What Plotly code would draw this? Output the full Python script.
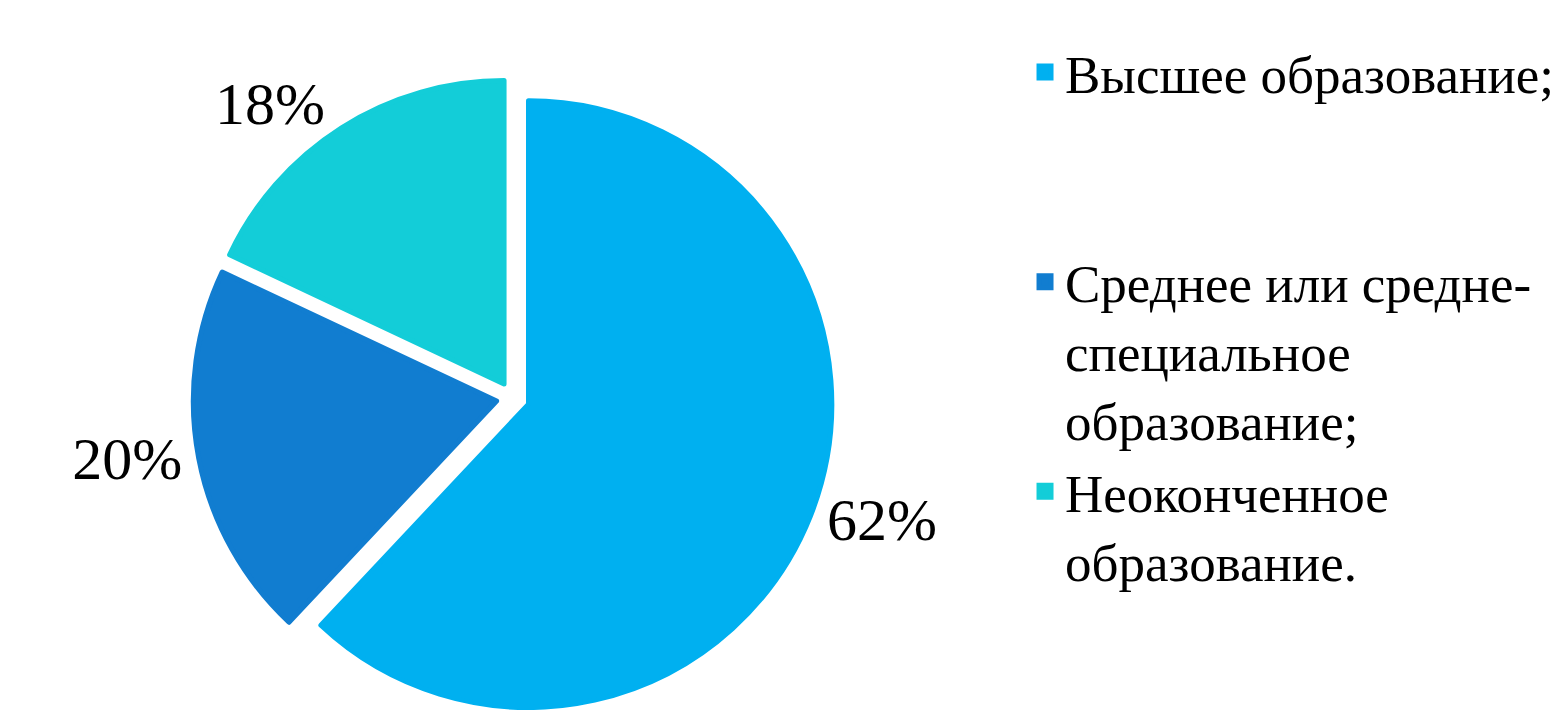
import plotly.graph_objects as go

categories = [
    "Высшее образование;<br>\u00a0<br>\u00a0",
    "Среднее или средне-<br>специальное<br>образование;",
    "Неоконченное<br>образование.",
]
values = [62, 20, 18]
colors = ["#00B0F0", "#117DD0", "#13CDD8"]
pulls = [0.055, 0.055, 0.055]

FONT = "Liberation Serif, Times New Roman, serif"

fig = go.Figure(
    go.Pie(
        labels=categories,
        values=values,
        sort=False,
        direction="clockwise",
        rotation=0,
        pull=pulls,
        marker=dict(colors=colors, line=dict(color=colors, width=5)),
        textposition="outside",
        texttemplate="%{value}%",
        textfont=dict(family=FONT, size=60, color="#000000"),
        domain=dict(x=[0.115, 0.5316], y=[0, 1]),
        hoverinfo="label+percent",
    )
)

fig.update_layout(
    width=1562,
    height=710,
    margin=dict(l=0, r=0, t=70, b=0, autoexpand=False),
    paper_bgcolor="white",
    plot_bgcolor="white",
    showlegend=True,
    legend=dict(
        xref="paper",
        yref="paper",
        x=0.6511,
        y=1.0734,
        xanchor="left",
        yanchor="top",
        valign="top",
        font=dict(family=FONT, size=53, color="#000000"),
        bgcolor="rgba(0,0,0,0)",
        maxheight=700,
    ),
    font=dict(family=FONT),
)

fig.write_html("out.html")
